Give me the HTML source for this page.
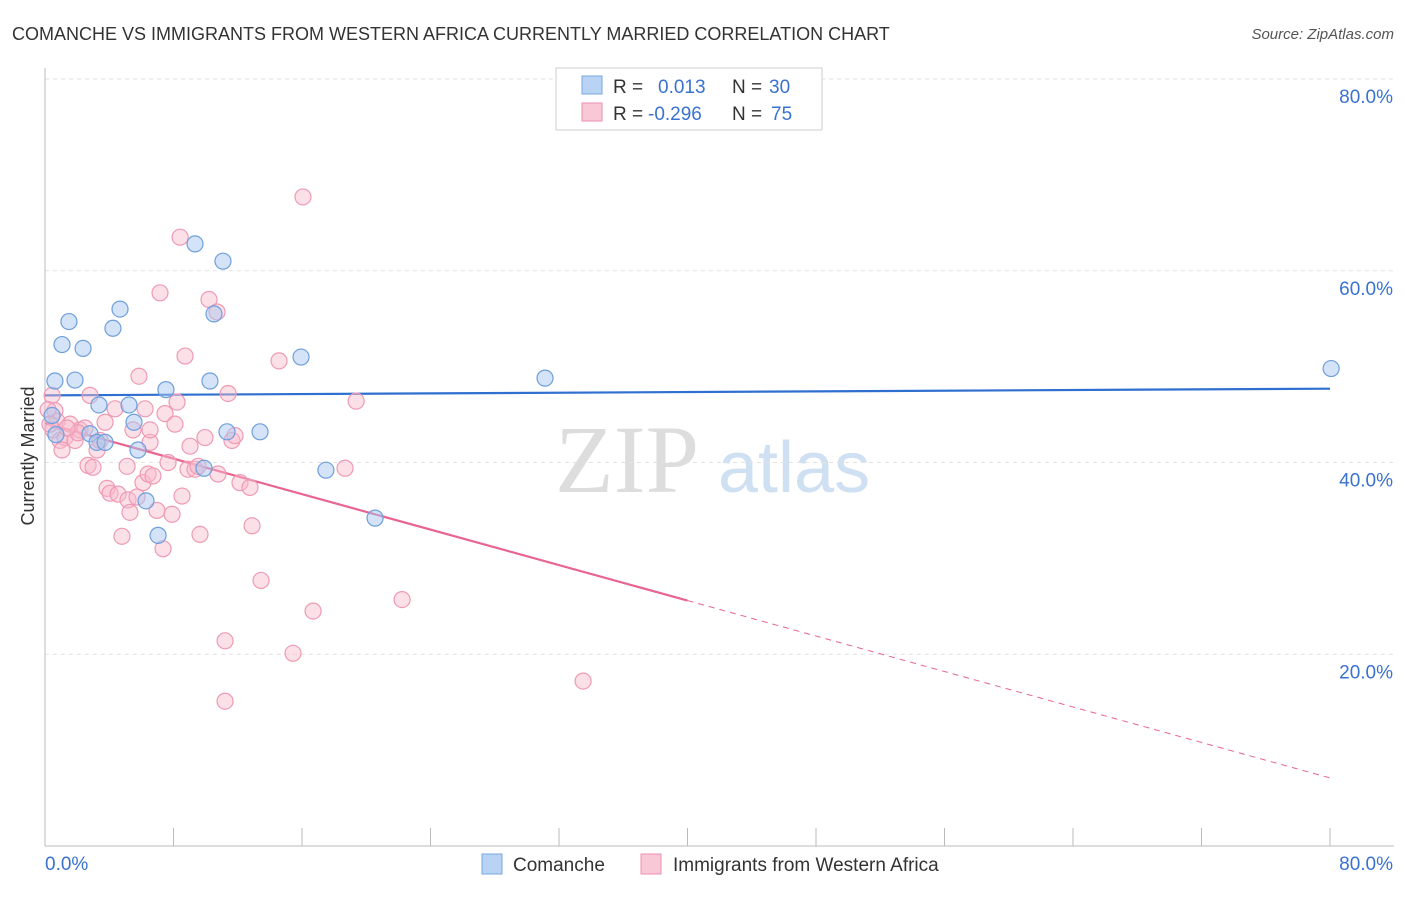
<!DOCTYPE html>
<html><head><meta charset="utf-8"><style>
body{margin:0;background:#fff;font-family:"Liberation Sans",sans-serif;}
</style></head><body>
<svg id="chart" width="1406" height="892" xmlns="http://www.w3.org/2000/svg" font-family="Liberation Sans, sans-serif">
<text x="12" y="40" font-size="18" fill="#333">COMANCHE VS IMMIGRANTS FROM WESTERN AFRICA CURRENTLY MARRIED CORRELATION CHART</text>
<text x="1394" y="39" font-size="15" fill="#555" text-anchor="end" font-style="italic">Source: ZipAtlas.com</text>
<text transform="translate(34,456) rotate(-90)" font-size="18" fill="#333" text-anchor="middle">Currently Married</text>
<g><text x="555" y="492" font-size="96" fill="#ddd" font-family="Liberation Serif, serif">ZIP</text><text x="718" y="492" font-size="72" fill="#cfe0f3">atlas</text></g>
<g id="grid"></g><g id="axes"></g><g id="trends"></g><g id="pts"></g>
<g>
<rect x="556" y="68" width="266" height="62" fill="#fff" stroke="#ccc"/>
<rect x="582" y="76" width="20" height="18" fill="#b8d3f3" stroke="#7aa7e0"/>
<rect x="582" y="103" width="20" height="18" fill="#f9c8d7" stroke="#ee8fae"/>
<text x="613" y="93" font-size="19" fill="#333">R =</text><text x="658" y="93" font-size="19" fill="#3a72d0">0.013</text>
<text x="732" y="93" font-size="19" fill="#333">N =</text><text x="769" y="93" font-size="19" fill="#3a72d0">30</text>
<text x="613" y="120" font-size="19" fill="#333">R =</text><text x="648" y="120" font-size="19" fill="#3a72d0">-0.296</text>
<text x="732" y="120" font-size="19" fill="#333">N =</text><text x="771" y="120" font-size="19" fill="#3a72d0">75</text>
</g>
<g>
<rect x="482" y="854" width="20" height="20" fill="#b8d3f3" stroke="#7aa7e0"/>
<text x="513" y="871" font-size="19" fill="#333">Comanche</text>
<rect x="641" y="854" width="20" height="20" fill="#f9c8d7" stroke="#ee8fae"/>
<text x="673" y="871" font-size="19" fill="#333">Immigrants from Western Africa</text>
</g>
</svg>
<script>
const yTicks=[20,40,60,80];
const xTickLabels=["0.0%","80.0%"];
const blueX=[0.62,1.06,1.49,2.37,1.87,0.44,0.68,3.36,2.80,3.24,3.74,4.23,4.67,5.23,5.54,5.79,6.29,7.04,7.53,9.34,11.08,10.52,10.27,11.33,9.90,13.39,15.94,17.49,20.55,31.13,80.07];
const blueY=[48.5,52.3,54.7,51.9,48.6,44.9,42.9,46.0,43.0,42.1,42.1,54.0,56.0,46.0,44.2,41.3,36.0,32.4,47.6,62.8,61.0,55.5,48.5,43.2,39.4,43.2,51.0,39.2,34.2,48.8,49.8];
const pinkX=[0.44,0.62,0.75,0.50,0.93,1.25,1.06,1.56,1.87,2.18,2.49,2.68,2.99,2.80,3.24,3.42,3.86,4.05,4.36,4.55,4.79,5.11,5.17,5.29,5.48,5.73,5.85,6.10,6.23,6.42,6.54,6.72,6.97,7.16,7.35,7.47,7.66,7.91,8.09,8.22,8.41,8.53,8.72,8.90,9.03,9.34,9.53,9.65,9.96,10.21,10.71,10.77,11.21,11.21,11.40,11.64,11.83,12.14,12.76,12.89,13.45,14.57,15.44,16.06,16.69,18.68,19.37,22.23,33.50,0.19,0.31,2.05,3.74,6.54,1.37];
const pinkY=[47.0,45.4,44.3,43.4,42.3,42.6,41.3,44.0,42.3,43.4,43.6,39.7,39.5,47.0,41.3,42.3,37.3,36.8,45.6,36.7,32.3,39.6,36.1,34.8,43.4,36.4,49.0,37.9,45.6,38.8,42.1,38.6,35.0,57.7,31.0,45.1,40.0,34.6,44.0,46.3,63.5,36.5,51.1,39.3,41.7,39.3,39.6,32.5,42.6,57.0,55.7,38.8,21.4,15.1,47.2,42.3,42.8,37.9,37.4,33.4,27.7,50.6,20.1,67.7,24.5,39.4,46.4,25.7,17.2,45.5,44.0,43.1,44.2,43.4,43.6];
const trendBlue=[47.0,47.7];
const trendPink=[44.1,7.1];
const X0=45,X1=1330,Y0=846,Y80=79;
const sx=v=>X0+(X1-X0)*v/80, sy=v=>Y0-(Y0-Y80)*v/80;
const NS="http://www.w3.org/2000/svg";
function mk(parent,tag,attrs){const e=document.createElementNS(NS,tag);for(const k in attrs)e.setAttribute(k,attrs[k]);document.getElementById(parent).appendChild(e);return e;}
yTicks.forEach(t=>{
 const l=mk('grid','line',{x1:X0,x2:1394,y1:sy(t),y2:sy(t),stroke:'#e2e2e2','stroke-dasharray':'4,4'});
 
 
 const tx=mk('grid','text',{x:1393,y:sy(t)+24,'font-size':19,fill:'#3a72d0','text-anchor':'end'});
 tx.textContent=t.toFixed(1)+'%';
 
 
});
const ax=mk('axes','line',{x1:X0,x2:1394,y1:Y0,y2:Y0,stroke:'#bbb'});


const ay=mk('axes','line',{x1:X0,x2:X0,y1:68,y2:Y0,stroke:'#bbb'});


for(let i=1;i<=10;i++){
 const t=mk('axes','line',{x1:sx(i*8),x2:sx(i*8),y1:Y0,y2:Y0-18,stroke:'#bbb'});
 
 
}
[[0,'start',45],[80,'end',1393]].forEach((d,i)=>{
 const t=mk('axes','text',{x:d[2],y:870,'font-size':19,fill:'#3a72d0','text-anchor':d[1]});
 t.textContent=xTickLabels[i];
 
 
});
pinkX.forEach((x,i)=>{
 const c=mk('pts','circle',{cx:sx(x),cy:sy(pinkY[i]),r:8,fill:'rgba(248,186,205,0.45)',stroke:'#ef9ab5','stroke-width':1.2});
 
 
});
blueX.forEach((x,i)=>{
 const c=mk('pts','circle',{cx:sx(x),cy:sy(blueY[i]),r:8,fill:'rgba(170,200,240,0.5)',stroke:'#6f9fdc','stroke-width':1.2});
 
 
});
const bl=mk('trends','line',{x1:sx(0),y1:sy(trendBlue[0]),x2:sx(80),y2:sy(trendBlue[1]),stroke:'#2f6fd0','stroke-width':2.2});


const pm=v=>trendPink[0]+(trendPink[1]-trendPink[0])*v/80;
const pl=mk('trends','line',{x1:sx(0),y1:sy(pm(0)),x2:sx(40),y2:sy(pm(40)),stroke:'#e8658f','stroke-width':2.2});


const pd=mk('trends','line',{x1:sx(40),y1:sy(pm(40)),x2:sx(80),y2:sy(pm(80)),stroke:'#e8658f','stroke-width':1,'stroke-dasharray':'6,5'});


</script>
</body></html>
